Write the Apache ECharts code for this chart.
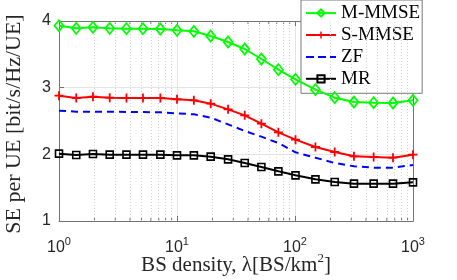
<!DOCTYPE html>
<html><head><meta charset="utf-8">
<script src="https://cdn.jsdelivr.net/npm/echarts@6/dist/echarts.min.js"></script>
<style>html,body{margin:0;padding:0;background:#fff}#c{width:457px;height:280px}</style>
</head><body><div id="c"></div>
<script>
const lambda = [1, 1.4, 1.94, 2.69, 3.73, 5.15, 7.23, 10, 13.9, 19.3, 27.1, 37.5, 51.9, 72.3, 101, 149, 217, 316, 464, 677, 1000];
const mmmse = [3.93, 3.89, 3.905, 3.89, 3.885, 3.885, 3.88, 3.86, 3.845, 3.775, 3.685, 3.58, 3.43, 3.27, 3.125, 2.97, 2.85, 2.785, 2.775, 2.77, 2.81];
const smmse = [2.88, 2.845, 2.865, 2.85, 2.845, 2.845, 2.845, 2.826, 2.81, 2.76, 2.675, 2.585, 2.46, 2.33, 2.22, 2.11, 2.035, 1.97, 1.96, 1.95, 1.995];
const zf = [2.655, 2.64, 2.64, 2.64, 2.635, 2.635, 2.63, 2.615, 2.6, 2.55, 2.45, 2.35, 2.265, 2.17, 2.03, 1.95, 1.87, 1.82, 1.80, 1.80, 1.84];
const mr = [2.01, 1.99, 2.005, 1.995, 1.995, 1.995, 1.995, 1.985, 1.985, 1.965, 1.925, 1.87, 1.81, 1.745, 1.685, 1.625, 1.585, 1.56, 1.56, 1.56, 1.58];
const seriesNames = ['M-MMSE', 'S-MMSE', 'ZF', 'MR'];
const xMin = 1, xMax = 1000, yMin = 1, yMax = 4, yStep = 1;
const minorX = [2,3,4,5,6,7,8,9,20,30,40,50,60,70,80,90,200,300,400,500,600,700,800,900];

const pts = v => lambda.map((x, i) => [x, v[i]]);
const serif = 'Liberation Serif';
const sans = 'Liberation Sans';
const axisCol = '#737373';
const plus = 'path://M4,0h2v4h4v2h-4v4h-2v-4h-4v-2h4z';
const dashIcon = 'path://M0,0h0.01v0.01z M30,9h0.01v0.01z M0,3.5h8v2h-8z M12,3.5h8v2h-8z M24,3.5h6v2h-6z';

const chart = echarts.init(document.getElementById('c'), null, {renderer: 'canvas'});
chart.setOption({
  animation: false,
  backgroundColor: '#fff',
  grid: {left: 59, right: 44, top: 21, bottom: 59, containLabel: false, outerBoundsMode: 'none'},
  legend: {
    data: [{name: seriesNames[0]}, {name: seriesNames[1]}, {name: seriesNames[2], icon: dashIcon, itemStyle: {color: '#0000ff'}}, {name: seriesNames[3]}],
    orient: 'vertical', left: 301, top: 0,
    backgroundColor: '#fff', borderColor: '#7a7a7a', borderWidth: 1,
    padding: [3.6, 2, 5, 4], itemWidth: 30, itemHeight: 9, itemGap: 2.9,
    textStyle: {fontFamily: serif, fontSize: 19, color: '#000', width: 80}
  },
  xAxis: [{
    type: 'log', logBase: 10, min: xMin, max: xMax,
    name: '{a|BS density, λ[BS/km}{s|2}{a|]}', nameLocation: 'middle', nameGap: 31, nameMoveOverlap: false,
    nameTextStyle: {rich: {a: {fontFamily: serif, fontSize: 21, color: '#262626', lineHeight: 24, verticalAlign: 'bottom'}, s: {fontFamily: serif, fontSize: 13, color: '#262626', verticalAlign: 'top', lineHeight: 12}}},
    axisLine: {show: true, lineStyle: {color: axisCol, width: 1}},
    axisTick: {show: true, inside: true, length: 5, lineStyle: {color: axisCol}},
    axisLabel: {margin: 15, formatter: v => '{b|10}{s|' + Math.round(Math.log10(v)) + '}',
      rich: {b: {fontFamily: sans, fontSize: 16, color: '#262626', lineHeight: 24}, s: {fontFamily: sans, fontSize: 11, color: '#262626', verticalAlign: 'top', lineHeight: 11}}},
    splitLine: {show: true, lineStyle: {color: '#e3e3e3', width: 1}}
  }, {
    type: 'log', logBase: 10, min: xMin, max: xMax, position: 'top',
    axisLine: {show: true, lineStyle: {color: axisCol, width: 1}},
    axisTick: {show: true, inside: true, length: 5, lineStyle: {color: axisCol}},
    axisLabel: {show: false}, splitLine: {show: false}
  }],
  yAxis: [{
    type: 'value', min: yMin, max: yMax, interval: yStep,
    name: 'SE per UE [bit/s/Hz/UE]', nameLocation: 'middle', nameGap: 34, nameMoveOverlap: false,
    nameTextStyle: {fontFamily: serif, fontSize: 22, color: '#262626', padding: [0, 6, 0, 0]},
    axisLine: {show: true, lineStyle: {color: axisCol, width: 1}},
    axisTick: {show: true, inside: true, length: 5, lineStyle: {color: axisCol}},
    axisLabel: {margin: 8, fontFamily: sans, fontSize: 16, color: '#262626'},
    splitLine: {show: true, lineStyle: {color: '#e3e3e3', width: 1}}
  }, {
    type: 'value', min: yMin, max: yMax, interval: yStep, position: 'right',
    axisLine: {show: true, lineStyle: {color: axisCol, width: 1}},
    axisTick: {show: true, inside: true, length: 5, lineStyle: {color: axisCol}},
    axisLabel: {show: false}, splitLine: {show: false}
  }],
  series: [
    {
      name: '_grid', type: 'line', data: [[1, 1]], symbol: 'none', lineStyle: {opacity: 0}, z: 0, silent: true,
      markLine: {silent: true, symbol: 'none', label: {show: false},
        lineStyle: {color: '#d4d4d4', type: [1, 2], width: 1}, data: minorX.map(x => ({xAxis: x}))}
    },
    {
      name: '_minorTicks', type: 'custom', data: minorX.map(x => [x]), z: 1, silent: true,
      renderItem: (params, api) => {
        const b = api.coord([api.value(0), yMin]);
        const t = api.coord([api.value(0), yMax]);
        const st = {stroke: axisCol, lineWidth: 1};
        return {type: 'group', children: [
          {type: 'line', shape: {x1: b[0], y1: b[1], x2: b[0], y2: b[1] - 3}, style: st},
          {type: 'line', shape: {x1: t[0], y1: t[1], x2: t[0], y2: t[1] + 3}, style: st}
        ]};
      }
    },
    {
      name: seriesNames[0], type: 'line', data: pts(mmmse), z: 5,
      symbol: 'diamond', symbolSize: [9, 11], showAllSymbol: true,
      color: '#00ff00', lineStyle: {color: '#00ff00', width: 2},
      itemStyle: {color: 'rgba(255,255,255,0)', borderColor: '#00ff00', borderWidth: 1.8}
    },
    {
      name: seriesNames[1], type: 'line', data: pts(smmse), z: 5,
      symbol: plus, symbolSize: 9, showAllSymbol: true,
      color: '#ff0000', lineStyle: {color: '#ff0000', width: 2},
      itemStyle: {color: '#ff0000', borderWidth: 0}
    },
    {
      name: seriesNames[2], type: 'line', data: pts(zf), z: 5,
      symbol: 'none', showSymbol: false,
      color: '#0000ff', lineStyle: {color: '#0000ff', width: 2, type: [7, 5]}
    },
    {
      name: seriesNames[3], type: 'line', data: pts(mr), z: 5,
      symbol: 'rect', symbolSize: 7, showAllSymbol: true,
      color: '#000000', lineStyle: {color: '#000000', width: 2},
      itemStyle: {color: 'rgba(255,255,255,0)', borderColor: '#000000', borderWidth: 1.6}
    }
  ]
});
</script></body></html>
